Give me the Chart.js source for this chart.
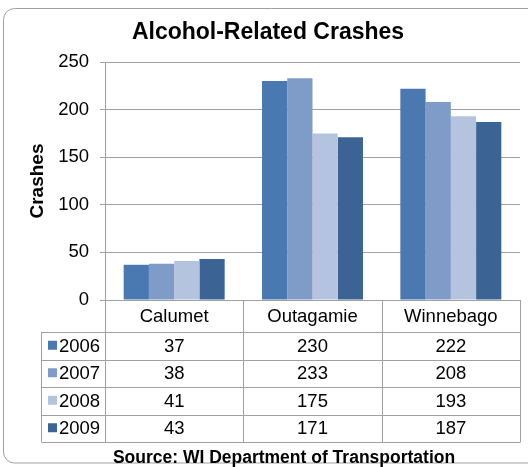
<!DOCTYPE html>
<html>
<head>
<meta charset="utf-8">
<script src="https://cdn.jsdelivr.net/npm/chart.js@4/dist/chart.umd.min.js"></script>
<style>
  html, body { margin: 0; padding: 0; background: #fff; }
  #wrap { width: 528px; height: 467px; }
</style>
</head>
<body>
<div id="wrap"><canvas id="crashChart" width="528" height="467"></canvas></div>
<script>
const categories = ['Calumet', 'Outagamie', 'Winnebago'];
const years = ['2006', '2007', '2008', '2009'];
const crashes2006 = [37, 230, 222];
const crashes2007 = [38, 233, 208];
const crashes2008 = [41, 175, 193];
const crashes2009 = [43, 171, 187];
const yTicks = [0, 50, 100, 150, 200, 250];

const seriesValues = [crashes2006, crashes2007, crashes2008, crashes2009];
const seriesColors = ['#4a79b2', '#7f9cc8', '#b4c4df', '#3b6495'];
const FONT = '"Liberation Sans", Arial, sans-serif';
const LINE = '#a0a0a0';

// frame, title, data table and source line
const decorPlugin = {
    id: 'decor',
    beforeDraw(chart) {
        const c = chart.ctx;
        c.save();
        c.fillStyle = '#fff';
        c.fillRect(0, 0, chart.width, chart.height);
        c.strokeStyle = LINE;
        c.lineWidth = 1;
        c.beginPath();
        c.roundRect(3.5, 8.5, 540, 454.5, 11);
        c.stroke();
        c.restore();
    },
    afterDraw(chart) {
        const c = chart.ctx;
        const area = chart.chartArea;
        const xs = chart.scales.x;
        const colW = (area.right - area.left) / categories.length;
        const headTop = area.bottom;
        const headBottom = 332;
        const rowH = 27.5;
        const tableLeft = 41.5;
        const tableBottom = headBottom + rowH * years.length;

        c.save();
        c.fillStyle = '#000';
        c.textAlign = 'center';
        c.textBaseline = 'middle';
        c.font = 'bold 23px ' + FONT;
        c.fillText('Alcohol-Related Crashes', 268, 33);

        c.strokeStyle = LINE;
        c.lineWidth = 1;
        c.beginPath();
        // vertical lines
        for (let i = 0; i <= categories.length; i++) {
            const x = Math.round(area.left + i * colW) + 0.5;
            c.moveTo(x, headTop);
            c.lineTo(x, tableBottom);
        }
        c.moveTo(tableLeft, headBottom);
        c.lineTo(tableLeft, tableBottom);
        // horizontal lines
        for (let r = 0; r <= years.length; r++) {
            const y = Math.round(headBottom + r * rowH) + 0.5;
            c.moveTo(tableLeft, y);
            c.lineTo(area.right + 0.5, y);
        }
        c.stroke();

        c.font = '18.5px ' + FONT;
        categories.forEach((cat, i) => {
            c.fillText(cat, xs.getPixelForValue(i), (headTop + headBottom) / 2 + 1);
        });
        years.forEach((yr, r) => {
            const cy = headBottom + r * rowH + rowH / 2 + 1;
            c.fillStyle = seriesColors[r];
            c.fillRect(48, cy - 6, 9, 9);
            c.fillStyle = '#000';
            c.textAlign = 'left';
            c.fillText(yr, 59, cy);
            c.textAlign = 'center';
            seriesValues[r].forEach((v, i) => {
                c.fillText(String(v), xs.getPixelForValue(i), cy);
            });
        });

        c.font = 'bold 17.5px ' + FONT;
        c.fillText('Source: WI Department of Transportation', 284, 458);
        c.restore();
    }
};

new Chart(document.getElementById('crashChart'), {
    type: 'bar',
    data: {
        labels: categories,
        datasets: years.map((yr, i) => ({
            label: yr,
            data: seriesValues[i],
            backgroundColor: seriesColors[i],
            borderWidth: 0,
            barPercentage: 1,
            categoryPercentage: 0.73
        }))
    },
    options: {
        responsive: false,
        animation: false,
        layout: { padding: { left: 0, top: 62, right: 8, bottom: 167 } },
        plugins: {
            legend: { display: false },
            tooltip: { enabled: false }
        },
        scales: {
            x: {
                display: false
            },
            y: {
                min: 0,
                max: 250,
                afterBuildTicks: (s) => { s.ticks = yTicks.map(v => ({ value: v })); },
                afterFit: (s) => { s.width = 105; },
                grid: { color: LINE, lineWidth: 1, tickLength: 5 },
                border: { color: LINE },
                ticks: { color: '#000', padding: 11, font: { family: FONT, size: 18.5 } },
                title: {
                    display: true,
                    text: 'Crashes',
                    color: '#000',
                    padding: { top: 26, bottom: 0 },
                    font: { family: FONT, size: 19, weight: 'bold' }
                }
            }
        }
    },
    plugins: [decorPlugin]
});
</script>
</body>
</html>
